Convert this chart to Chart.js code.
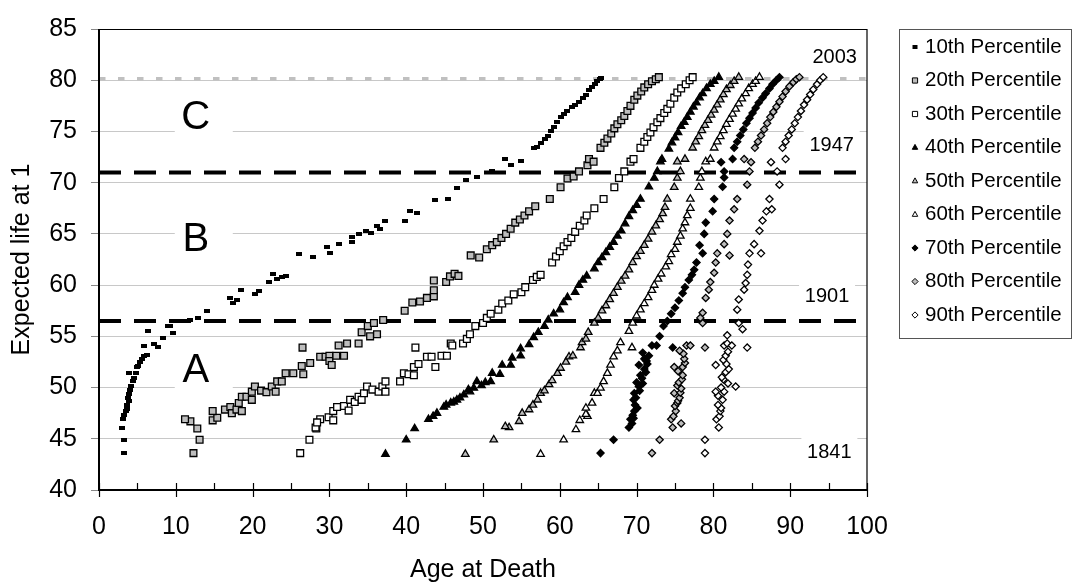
<!DOCTYPE html>
<html>
<head>
<meta charset="utf-8">
<script src="https://cdn.jsdelivr.net/npm/chart.js@4.4.1/dist/chart.umd.min.js"></script>
<style>
  html, body { margin: 0; padding: 0; background: #fff; }
  #wrap { width: 1074px; height: 587px; position: relative; }
</style>
</head>
<body>
<div id="wrap"><canvas id="chart" width="1074" height="587"></canvas></div>
<script>
// [age at death, expected life at 1] for each percentile series
const p10 = [[3.2,43.6],[3.2,44.9],[3.0,46.1],[3.1,46.9],[3.3,47.3],[3.5,47.7],[3.6,47.9],[3.7,48.3],[3.9,48.7],[3.8,49.0],[3.9,49.4],[4.0,49.8],[4.2,50.2],[4.4,50.6],[4.5,50.9],[3.95,51.4],[4.8,51.4],[4.9,52.0],[5.1,52.1],[5.3,52.5],[5.6,52.8],[5.8,53.1],[6.2,53.2],[5.8,54.1],[7.1,54.3],[7.7,54.0],[8.3,54.8],[6.4,55.5],[9.6,55.3],[9.0,56.0],[9.2,56.0],
  [11.9,56.6],[12.9,56.8],[14.0,57.5],[17.0,58.75],[17.5,58.3],[18.0,58.5],[18.5,59.5],[20.3,59.1],[20.8,59.4],[22.1,60.3],[22.7,61.1],[23.2,60.6],[23.8,60.8],[24.4,60.9],[26.1,63.0],[27.9,62.7],[29.7,63.75],[30.1,63.1],[31.2,64.0],[32.9,64.7],[32.9,64.2],[33.9,65.0],[34.8,65.3],[35.4,65.1],[36.2,65.8],[36.6,65.5],[37.3,66.25],[39.9,66.25],[40.5,67.2],[41.4,67.0],[43.7,68.3],[45.5,68.4],[46.6,69.5],[47.8,70.3],[49.2,70.6],[51.2,71.1],[52.9,72.3],[53.6,71.7],[54.9,72.1],
  [56.6,73.4],[57.0,73.5],[57.5,73.9],[58.1,74.3],[58.5,74.6],[58.8,75.0],[59.2,75.4],[59.6,75.9],[60.1,76.4],[60.5,76.7],[61.0,77.0],[61.6,77.4],[62.0,77.6],[62.5,77.9],[63.0,78.3],[63.4,78.6],[63.8,79.0],[64.2,79.3],[64.6,79.6],[64.9,79.9],[65.2,80.1],[65.4,80.2]];
const p20 = [[12.3,43.6],[13.1,44.9],[12.8,46.0],[11.9,46.7],[11.2,46.9],[14.8,46.8],[15.4,47.05],[14.8,47.7],[16.4,47.85],[17.1,48.1],[17.3,47.5],[17.9,47.85],[18.6,47.7],[18.2,48.5],[18.6,49.1],[19.2,49.1],[19.9,48.8],[19.9,49.6],[20.3,50.1],[21.1,49.7],[21.8,49.55],[22.5,50.1],[23.0,49.6],[23.2,50.6],[23.8,50.6],[24.3,51.4],[25.3,51.4],[26.4,52.1],[26.6,51.3],[27.5,52.4],[26.5,53.9],[28.8,53.0],[29.5,53.0],[30.0,53.1],[30.0,52.6],[30.3,52.2],[30.9,53.1],[31.2,54.1],[31.9,53.1],[32.3,54.3],[33.8,54.3],[34.2,55.4],[35.3,55.0],[36.2,55.2],[35.0,56.0],[35.8,56.3],
  [37.0,56.6],[39.8,57.5],[40.8,58.3],[41.8,58.4],[42.7,58.75],[43.6,58.9],[43.6,59.5],[43.6,60.45],[45.2,60.3],[45.7,60.85],[46.3,61.1],[46.8,60.9],[48.4,62.9],[49.5,62.7],[50.5,63.5],[51.2,63.9],[51.8,64.2],[52.4,64.6],[53.0,65.0],[53.6,65.5],[54.2,66.1],[54.8,66.4],[55.4,66.8],[56.0,67.2],[56.8,67.7],[58.7,68.4],[60.1,69.55],[61.0,70.4],[61.8,70.6],[62.5,71.1],[63.6,71.7],[63.8,72.3],[64.4,72.05],
  [65.3,73.4],[65.8,73.9],[66.2,74.3],[66.7,74.8],[67.1,75.3],[67.5,75.7],[68.0,76.1],[68.4,76.5],[68.8,77.0],[69.2,77.5],[69.7,78.1],[70.1,78.5],[70.6,78.9],[71.0,79.3],[71.5,79.6],[72.0,79.9],[72.5,80.1],[72.9,80.3]];
const p30 = [[26.2,43.6],[27.4,44.9],[28.3,46.0],[28.2,46.1],[28.8,46.9],[28.4,46.6],[29.9,47.1],[30.5,47.7],[30.5,46.8],[31.0,48.1],[31.9,48.2],[32.5,47.75],[32.7,48.8],[33.3,48.6],[33.8,49.1],[34.2,48.8],[34.5,49.45],[34.9,50.1],[35.6,49.8],[36.4,49.6],[36.9,50.1],[37.3,50.6],[37.3,49.6],[39.2,50.6],[39.7,51.4],[40.3,51.3],[41.0,51.2],[41.0,52.0],[41.6,52.3],[41.2,53.9],[42.7,53.0],[43.3,53.0],[43.8,52.0],[44.6,53.1],[45.3,53.1],[45.8,54.3],[46.0,54.1],[47.4,54.3],[47.9,54.75],[48.3,55.2],
  [49.0,56.0],[50.0,56.3],[50.5,56.8],[51.0,57.2],[52.0,57.6],[52.5,58.2],[53.3,58.5],[54.0,59.1],[55.0,59.3],[55.5,59.8],[56.5,60.5],[57.0,60.8],[57.5,61.0],[59.0,62.2],[59.5,62.8],[60.0,63.3],[60.5,63.8],[61.0,64.2],[61.5,64.6],[62.0,65.2],[62.6,65.8],[63.2,66.3],[63.5,66.8],[64.5,67.5],[65.7,68.4],[67.1,69.55],[67.7,70.45],[68.4,71.1],[69.2,72.05],[69.6,72.3],
  [70.5,73.4],[71.0,74.0],[71.4,74.45],[71.8,74.9],[72.2,75.4],[72.7,75.9],[73.1,76.3],[73.6,76.8],[74.0,77.2],[74.4,77.7],[74.9,78.3],[75.3,78.8],[75.8,79.2],[76.4,79.6],[76.9,80.0],[77.3,80.3]];
const p40 = [[37.3,43.5],[40.0,44.9],[41.1,46.0],[42.9,46.9],[43.5,47.2],[44.0,47.5],[44.9,48.1],[45.2,48.3],[45.8,48.5],[46.2,48.6],[46.6,48.8],[47.0,49.0],[47.5,49.3],[48.3,49.6],[48.1,49.8],[48.8,49.95],[49.8,50.2],[50.3,50.5],[49.2,50.6],[51.0,50.6],[51.2,51.4],[52.2,51.3],[52.5,52.2],[53.6,52.2],[53.8,52.9],[54.9,53.1],[54.9,53.8],[56.0,54.2],[56.6,54.9],[57.2,55.4],
  [58.0,56.0],[58.5,56.6],[59.2,57.2],[60.0,57.6],[60.5,58.3],[61.0,58.8],[62.0,59.3],[62.5,60.0],[63.0,60.5],[63.5,60.9],[64.5,61.6],[65.0,62.2],[65.5,62.7],[66.0,63.2],[66.5,63.7],[67.0,64.2],[67.5,64.8],[68.0,65.3],[68.5,66.0],[69.0,66.7],[69.5,67.3],[70.0,67.8],[70.5,68.4],[71.6,69.6],[72.3,70.45],[72.7,71.1],[73.1,72.05],[73.3,72.3],
  [74.2,73.3],[74.6,73.9],[75.0,74.4],[75.4,74.9],[75.8,75.5],[76.2,75.9],[76.6,76.4],[77.0,76.9],[77.4,77.4],[77.8,77.8],[78.2,78.3],[78.6,78.7],[79.1,79.2],[79.6,79.6],[80.1,79.9],[80.7,80.3]];
const p50 = [[47.7,43.5],[51.4,44.9],[53.4,46.1],[52.9,46.2],[54.7,46.7],[55.1,47.5],[56.0,47.85],[56.5,48.3],[57.1,48.8],[57.5,49.45],[58.0,49.7],[58.6,50.3],[59.0,50.7],[59.7,51.4],[60.1,51.9],[60.8,52.5],[61.2,53.0],[61.7,53.1],[62.7,53.9],[62.9,54.4],[63.4,54.75],[63.7,55.4],
  [64.5,56.3],[65.0,56.8],[65.5,57.5],[66.0,58.0],[66.5,58.6],[67.0,59.2],[67.5,59.8],[68.0,60.4],[68.5,60.9],[69.0,61.5],[69.5,62.2],[70.0,62.8],[70.5,63.3],[71.0,63.9],[71.5,64.5],[72.0,65.2],[72.5,65.8],[73.0,66.4],[73.4,67.0],[73.7,67.6],[74.0,68.4],[74.9,69.55],[75.3,70.45],[75.7,71.1],[75.3,72.05],[76.3,72.3],
  [77.3,73.4],[77.7,74.0],[78.1,74.5],[78.5,75.1],[78.9,75.6],[79.3,76.1],[79.7,76.6],[80.1,77.1],[80.5,77.6],[80.9,78.1],[81.3,78.6],[81.7,79.1],[82.2,79.5],[82.7,79.9],[83.3,80.3]];
const p60 = [[57.5,43.5],[60.5,44.9],[62.1,45.9],[62.6,46.8],[63.6,47.2],[63.4,47.4],[63.4,48.0],[64.2,48.5],[64.5,49.45],[64.9,49.45],[65.3,49.95],[65.7,50.6],[66.2,51.4],[66.6,52.2],[67.0,53.0],[67.5,53.6],[67.9,54.4],[69.4,53.9],
  [69.0,55.5],[69.5,56.3],[70.0,57.0],[70.5,57.6],[71.0,58.2],[71.5,58.8],[72.0,59.5],[72.3,60.0],[72.8,60.6],[73.2,61.1],[73.8,61.8],[74.2,62.3],[74.5,63.0],[75.0,63.5],[75.3,64.2],[75.7,64.8],[76.0,65.5],[76.3,66.1],[76.6,66.8],[77.0,67.5],[77.0,68.4],[78.1,69.55],[78.3,70.45],[78.5,71.1],[79.0,72.05],[79.6,72.3],
  [80.1,73.4],[80.5,74.0],[80.9,74.5],[81.3,75.1],[81.7,75.7],[82.1,76.2],[82.5,76.7],[82.9,77.2],[83.3,77.7],[83.7,78.2],[84.2,78.7],[84.6,79.2],[85.1,79.6],[85.5,79.9],[86.0,80.3]];
const p70 = [[65.3,43.6],[67.0,44.9],[69.0,46.1],[69.4,46.5],[69.2,46.9],[69.6,47.0],[69.5,47.3],[69.7,47.7],[70.1,48.0],[69.8,48.3],[69.6,48.8],[69.9,49.0],[69.7,49.45],[70.4,49.7],[70.3,50.1],[70.8,50.4],[70.0,50.5],[70.7,50.9],[70.5,51.2],[71.2,51.5],[71.0,51.8],[70.3,52.2],[71.4,52.3],[71.3,52.6],[71.0,52.8],[71.6,53.1],[70.8,53.4],[72.0,54.1],[72.6,54.1],[74.7,53.9],
  [73.0,55.0],[73.5,56.0],[74.0,56.5],[74.5,57.2],[75.0,57.8],[75.5,58.5],[76.0,59.2],[76.3,59.8],[76.8,60.5],[77.2,61.0],[77.5,61.5],[77.8,62.2],[78.6,63.1],[78.2,63.9],[78.8,65.0],[79.0,66.1],[79.9,67.2],[80.1,68.4],[81.2,69.6],[81.4,70.5],[81.4,71.1],[81.0,72.0],[82.5,72.3],
  [82.7,73.4],[83.1,74.0],[83.5,74.6],[83.9,75.2],[84.3,75.8],[84.7,76.3],[85.1,76.8],[85.5,77.3],[85.9,77.8],[86.4,78.3],[86.8,78.7],[87.3,79.2],[87.7,79.6],[88.2,80.0],[88.6,80.3]];
const p80 = [[72.0,43.6],[73.0,44.9],[74.7,46.1],[75.8,46.5],[74.5,46.9],[74.8,47.2],[75.1,47.7],[75.0,48.2],[75.3,48.5],[75.4,48.7],[75.6,49.0],[74.9,49.45],[75.7,49.5],[75.8,49.9],[75.3,50.2],[75.5,50.5],[75.9,50.8],[76.0,51.2],[75.4,51.6],[76.0,52.0],[74.9,52.0],[76.3,52.4],[76.2,52.8],[76.1,53.3],[75.6,53.6],[76.5,54.1],[77.0,54.1],[78.9,53.9],
  [78.6,56.3],[78.3,56.8],[78.6,57.3],[79.0,58.75],[79.4,59.55],[79.6,60.3],[80.1,61.2],[80.3,62.2],[80.5,63.1],[82.1,62.9],[81.4,64.0],[81.8,65.0],[82.1,66.3],[82.7,67.4],[83.1,68.4],[84.4,69.8],[84.7,71.1],[84.9,72.0],[84.0,72.3],
  [85.4,73.4],[85.8,74.0],[86.2,74.6],[86.6,75.2],[87.0,75.8],[87.4,76.4],[87.8,76.9],[88.2,77.4],[88.6,77.9],[89.0,78.4],[89.4,78.9],[89.9,79.4],[90.4,79.8],[90.8,80.1],[91.2,80.3]];
const p90 = [[78.9,43.6],[78.9,44.9],[80.7,46.1],[80.4,46.9],[80.8,47.2],[80.9,47.7],[81.0,48.0],[80.6,48.3],[81.2,48.8],[80.6,49.2],[80.3,49.6],[81.4,49.6],[81.0,50.0],[82.9,50.1],[81.9,50.4],[81.3,50.8],[81.1,51.0],[81.6,51.5],[82.0,51.8],[80.3,52.2],[81.7,52.3],[81.3,52.7],[81.6,53.1],[81.9,53.5],[81.4,54.1],[81.8,54.3],[82.4,54.1],[84.4,53.9],[81.8,55.1],
  [83.8,55.7],[83.3,56.3],[83.1,57.6],[83.3,58.6],[84.0,59.55],[84.2,60.2],[84.4,61.0],[84.5,62.0],[84.7,63.1],[86.2,63.1],[85.3,64.0],[86.0,65.3],[86.4,66.3],[86.9,67.2],[87.6,67.4],[87.3,68.4],[88.6,69.8],[88.3,71.1],[87.5,72.0],[89.4,72.3],
  [89.0,73.4],[89.4,74.0],[89.8,74.6],[90.2,75.2],[90.6,75.8],[91.0,76.4],[91.4,77.0],[91.8,77.6],[92.2,78.1],[92.6,78.6],[93.0,79.1],[93.5,79.6],[93.9,80.0],[94.3,80.3]];

const seriesNames = ['10th Percentile','20th Percentile','30th Percentile','40th Percentile','50th Percentile','60th Percentile','70th Percentile','80th Percentile','90th Percentile'];
const seriesData = [p10, p20, p30, p40, p50, p60, p70, p80, p90];

// era boundaries (expected life at 1) and the 2003 level
const eraLines = [56.5, 71];
const latestLevel = 80.15;
const eraLetters = [['A', 12.6, 51.7], ['B', 12.6, 64.5], ['C', 12.6, 76.4]];
const yearNotes = [['2003', 95.8, 82.2], ['1947', 95.4, 73.65], ['1901', 94.8, 58.9], ['1841', 95.1, 43.65]];

const FONT = '"Liberation Sans", Arial, Helvetica, sans-serif';
const GREY = '#bdbdbd';

// marker style per series
const markers = [
  { shape: 'bar',      fill: '#000', stroke: '#000' },
  { shape: 'rect',     fill: GREY,   stroke: '#000' },
  { shape: 'rect',     fill: '#fff', stroke: '#000' },
  { shape: 'triangle', fill: '#000', stroke: '#000' },
  { shape: 'triangle', fill: GREY,   stroke: '#000' },
  { shape: 'triangle', fill: '#fff', stroke: '#000' },
  { shape: 'rectRot',  fill: '#000', stroke: '#000' },
  { shape: 'rectRot',  fill: GREY,   stroke: '#000' },
  { shape: 'rectRot',  fill: '#fff', stroke: '#000' }
];

// small 6x4 dash used for the 10th percentile
const barMark = document.createElement('canvas');
barMark.width = 6; barMark.height = 4;
barMark.getContext('2d').fillRect(0, 0, 6, 4);

const datasets = seriesData.map((pts, i) => {
  const m = markers[i];
  const radius = m.shape === 'rect' ? 4.8 : m.shape === 'triangle' ? 4.3 : 3.6;
  return {
    label: seriesNames[i],
    data: pts.map(p => ({ x: p[0], y: p[1] })),
    showLine: false,
    pointStyle: m.shape === 'bar' ? barMark : m.shape,
    pointRadius: radius,
    pointHoverRadius: radius,
    backgroundColor: m.fill,
    borderColor: m.stroke,
    borderWidth: m.shape === 'bar' ? 0 : 1.3
  };
});

function drawMark(ctx, shape, x, y, s) {
  ctx.beginPath();
  if (shape === 'bar') {
    ctx.rect(x - 2.5, y - 2, 5, 4);
  } else if (shape === 'rect') {
    ctx.rect(x - s, y - s, 2 * s, 2 * s);
  } else if (shape === 'triangle') {
    ctx.moveTo(x, y - s * 1.2);
    ctx.lineTo(x + s * 1.05, y + s * 0.7);
    ctx.lineTo(x - s * 1.05, y + s * 0.7);
    ctx.closePath();
  } else {
    ctx.moveTo(x, y - s * 1.2);
    ctx.lineTo(x + s * 1.2, y);
    ctx.lineTo(x, y + s * 1.2);
    ctx.lineTo(x - s * 1.2, y);
    ctx.closePath();
  }
}

const decor = {
  id: 'decor',
  beforeDatasetsDraw(chart) {
    const { ctx, chartArea: a, scales: { x, y } } = chart;
    ctx.save();
    // 2003 level, dotted grey
    ctx.strokeStyle = '#c0c0c0';
    ctx.lineWidth = 3.5;
    ctx.setLineDash([6.5, 12.5]);
    let py = y.getPixelForValue(latestLevel);
    ctx.beginPath(); ctx.moveTo(a.left, py); ctx.lineTo(a.right, py); ctx.stroke();
    // era boundaries, heavy dashes
    ctx.strokeStyle = '#000';
    ctx.lineWidth = 4;
    ctx.setLineDash([22, 13]);
    eraLines.forEach(v => {
      py = y.getPixelForValue(v);
      ctx.beginPath(); ctx.moveTo(a.left, py); ctx.lineTo(a.right, py); ctx.stroke();
    });
    ctx.setLineDash([]);
    // letters with white backing
    ctx.font = '40px ' + FONT;
    ctx.textAlign = 'center';
    ctx.textBaseline = 'middle';
    eraLetters.forEach(([t, vx, vy]) => {
      const cx = x.getPixelForValue(vx), cy = y.getPixelForValue(vy);
      ctx.fillStyle = '#fff';
      ctx.fillRect(cx - 21, cy - 22, 58, 46);
      ctx.fillStyle = '#000';
      ctx.fillText(t, cx, cy + 1);
    });
    // year notes
    ctx.font = '20px ' + FONT;
    yearNotes.forEach(([t, vx, vy]) => {
      const cx = x.getPixelForValue(vx), cy = y.getPixelForValue(vy);
      ctx.fillStyle = '#fff';
      ctx.fillRect(cx - 28, cy - 15, 56, 28);
      ctx.fillStyle = '#000';
      ctx.fillText(t, cx, cy);
    });
    ctx.restore();
  },
  afterDraw(chart) {
    const { ctx, chartArea: a, scales: { x } } = chart;
    ctx.save();
    // frame top/right
    ctx.strokeStyle = '#000';
    ctx.lineWidth = 1.2;
    ctx.beginPath();
    ctx.moveTo(a.left, a.top + 0.5); ctx.lineTo(a.right, a.top + 0.5); ctx.lineTo(a.right, a.bottom);
    ctx.stroke();
    // axes
    ctx.lineWidth = 2;
    ctx.beginPath();
    ctx.moveTo(a.left, a.top); ctx.lineTo(a.left, a.bottom); ctx.lineTo(a.right, a.bottom);
    ctx.stroke();
    // x ticks: majors cross the axis, minors inside
    ctx.lineWidth = 1.2;
    for (let v = 0; v <= 100; v += 5) {
      const px = Math.round(x.getPixelForValue(v)) + 0.5;
      ctx.beginPath();
      ctx.moveTo(px, a.bottom - 7);
      ctx.lineTo(px, v % 10 === 0 ? a.bottom + 7 : a.bottom);
      ctx.stroke();
    }
    // legend
    const L = { left: 899, top: 29, right: 1071, bottom: 338 };
    ctx.strokeStyle = '#555';
    ctx.lineWidth = 1;
    ctx.strokeRect(L.left + 0.5, L.top + 0.5, L.right - L.left, L.bottom - L.top);
    ctx.font = '20.5px ' + FONT;
    ctx.textAlign = 'left';
    ctx.textBaseline = 'middle';
    seriesNames.forEach((name, i) => {
      const cy = 47 + i * 33.5;
      const m = markers[i];
      ctx.fillStyle = m.fill;
      ctx.strokeStyle = m.stroke;
      ctx.lineWidth = 1;
      drawMark(ctx, m.shape, 915, cy, 2.6);
      ctx.fill();
      if (m.shape !== 'bar') ctx.stroke();
      ctx.fillStyle = '#000';
      ctx.fillText(name, 925, cy);
    });
    ctx.restore();
  }
};

new Chart(document.getElementById('chart'), {
  type: 'scatter',
  data: { datasets },
  options: {
    responsive: false,
    animation: false,
    layout: { padding: { top: 22, right: 207, left: 0, bottom: 0 } },
    plugins: { legend: { display: false }, tooltip: { enabled: false } },
    scales: {
      x: {
        type: 'linear', min: 0, max: 100,
        afterFit: s => { s.height = 97; },
        grid: { display: false, drawTicks: false },
        border: { display: false },
        ticks: { stepSize: 10, color: '#000', padding: 22, font: { family: FONT, size: 25 } },
        title: { display: true, text: 'Age at Death', color: '#000', padding: 2, font: { family: FONT, size: 25 } }
      },
      y: {
        type: 'linear', min: 40, max: 85,
        afterFit: s => { s.width = 99; },
        grid: { color: '#c8c8c8', lineWidth: 1, tickLength: 8, tickColor: '#888' },
        border: { display: false },
        ticks: { stepSize: 5, color: '#000', padding: 14, font: { family: FONT, size: 25 } },
        title: { display: true, text: 'Expected life at 1', color: '#000', padding: 7, font: { family: FONT, size: 25 } }
      }
    }
  },
  plugins: [decor]
});
</script>
</body>
</html>
